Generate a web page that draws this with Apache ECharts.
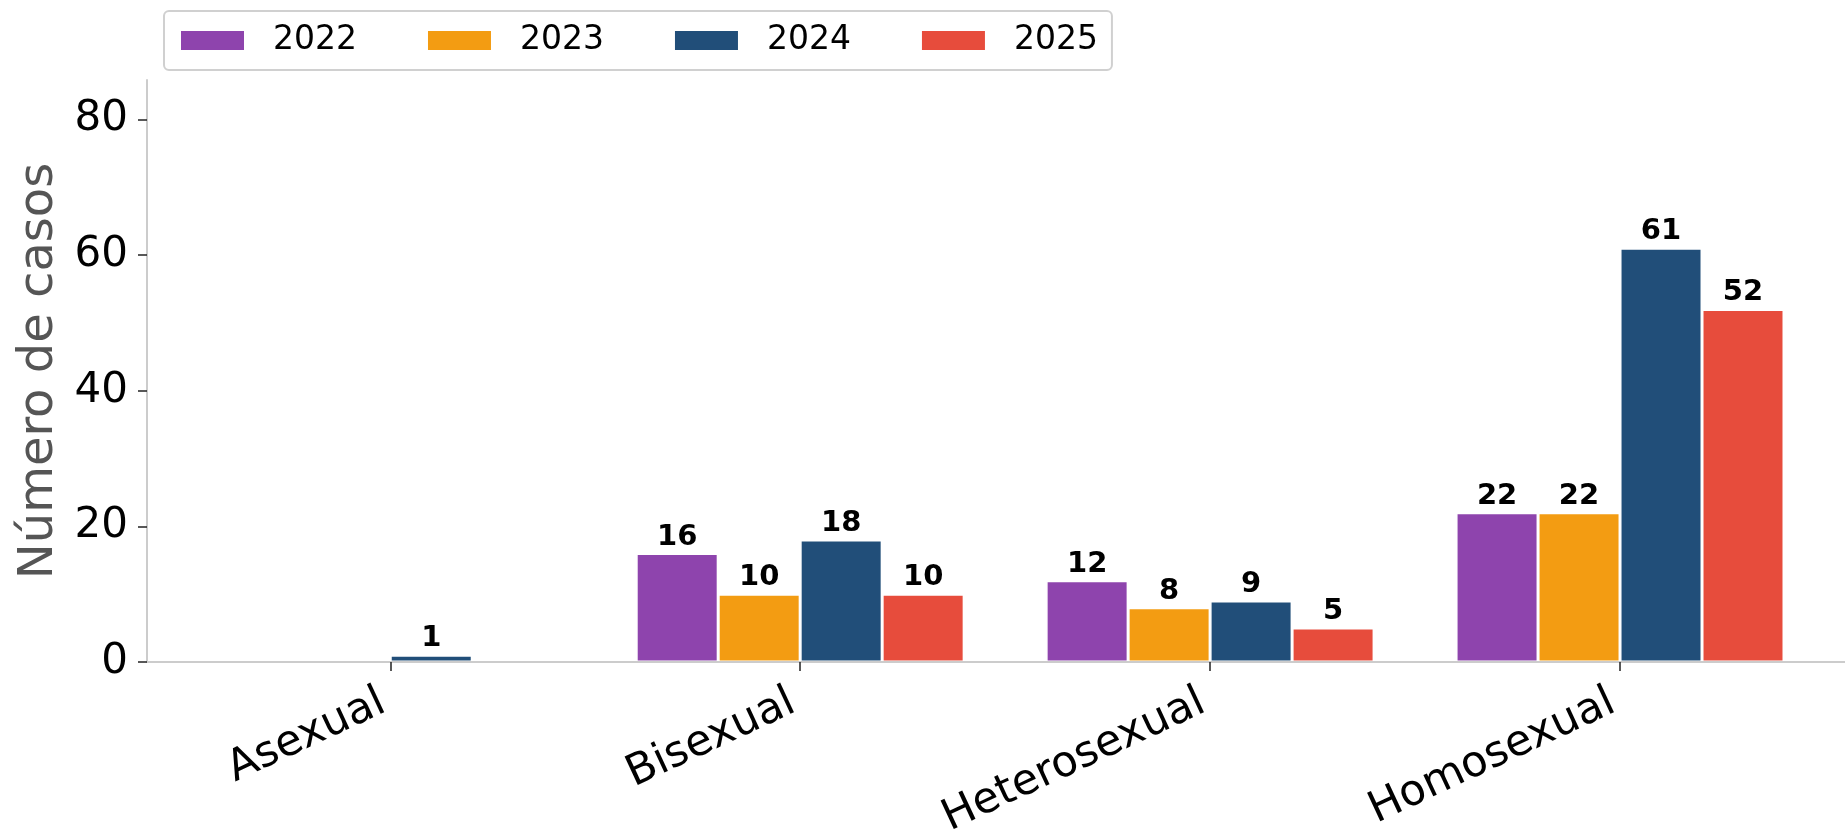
<!DOCTYPE html>
<html>
<head>
<meta charset="utf-8">
<script src="https://cdn.jsdelivr.net/npm/echarts@6/dist/echarts.min.js"></script>
<style>
html,body{margin:0;padding:0;background:#fff;}
#chart{width:1845px;height:831px;}
</style>
</head>
<body>
<div id="chart"></div>
<script>
const categories = ['Asexual', 'Bisexual', 'Heterosexual', 'Homosexual'];
const years = ['2022', '2023', '2024', '2025'];
const values2022 = [0, 16, 12, 22];
const values2023 = [0, 10, 8, 22];
const values2024 = [1, 18, 9, 61];
const values2025 = [0, 10, 5, 52];
const yTicks = [0, 20, 40, 60, 80];
const colors = ['#8E44AD', '#F39C12', '#214E79', '#E74C3C'];

const seriesValues = [values2022, values2023, values2024, values2025];
const FONT = 'DejaVu Sans';

const chart = echarts.init(document.getElementById('chart'), null, {renderer: 'canvas'});

const series = years.map((y, si) => ({
  name: y,
  type: 'bar',
  barWidth: '20%',
  barGap: '0%',
  itemStyle: { color: colors[si], borderColor: '#ffffff', borderWidth: 1.5 },
  label: {
    show: true,
    position: 'top',
    distance: 2,
    fontFamily: FONT,
    fontWeight: 'bold',
    fontSize: 29,
    color: '#000',
    formatter: p => (p.value[1] > 0 ? String(p.value[1]) : '')
  },
  data: seriesValues[si].map((v, i) => (v > 0 ? [i, v] : [i, null]))
}));

chart.setOption({
  animation: false,
  backgroundColor: '#ffffff',
  textStyle: { fontFamily: FONT },
  legend: {
    data: years,
    left: 164,
    top: 11,
    orient: 'horizontal',
    icon: 'rect',
    itemWidth: 65,
    itemHeight: 21,
    itemGap: 69,
    padding: [13, 14, 13, 15],
    backgroundColor: '#ffffff',
    borderColor: '#d0d0d0',
    borderWidth: 2,
    borderRadius: 5,
    textStyle: { fontFamily: FONT, fontSize: 33, color: '#000', padding: [0, 0, 0, 23], lineHeight: 32 }
  },
  grid: { left: 147, right: 0, top: 80, bottom: 169, containLabel: false, outerBoundsMode: 'none' },
  xAxis: {
    type: 'value',
    min: -0.5934,
    max: 3.5488,
    z: 10,
    axisLine: { show: true, onZero: false, lineStyle: { color: '#cccccc', width: 2 } },
    axisTick: { show: true, customValues: [0, 1, 2, 3], length: 9, lineStyle: { color: '#222', width: 1.5 } },
    axisLabel: {
      customValues: [0, 1, 2, 3],
      rotate: 25,
      margin: 35,
      padding: [0, 8, 0, 0],
      fontFamily: FONT,
      fontSize: 43,
      color: '#000',
      formatter: v => categories[Math.round(v)]
    },
    splitLine: { show: false }
  },
  yAxis: {
    type: 'value',
    min: 0,
    max: 85.83,
    z: 10,
    name: 'Número de casos',
    nameLocation: 'middle',
    nameRotate: 90,
    nameGap: 81,
    nameTextStyle: { fontFamily: FONT, fontSize: 48, color: '#555555' },
    axisLine: { show: true, onZero: false, lineStyle: { color: '#cccccc', width: 2 } },
    axisTick: { show: true, customValues: yTicks, length: 9, lineStyle: { color: '#222', width: 1.5 } },
    axisLabel: {
      customValues: yTicks,
      margin: 19,
      fontFamily: FONT,
      fontSize: 42,
      color: '#000'
    },
    splitLine: { show: false }
  },
  series: series
});
</script>
</body>
</html>
